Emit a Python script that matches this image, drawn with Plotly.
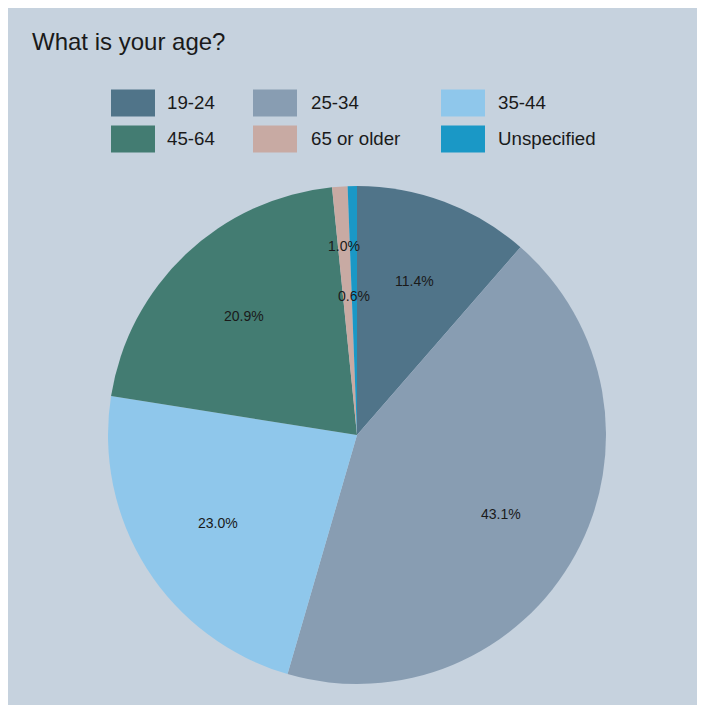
import math
import plotly.graph_objects as go

# ---- data ----
age_groups = ["19-24", "25-34", "35-44", "45-64", "65 or older", "Unspecified"]
shares = [11.4, 43.1, 23.0, 20.9, 1.0, 0.6]
slice_colors = ["#507489", "#889db2", "#8fc7eb", "#437c72", "#c8aaa3", "#1a98c6"]
title_text = "What is your age?"

BG = "#c6d2de"
W = H = 725
L, T, PW, PH = 100, 178, 498, 498
R_ = W - L - PW
B_ = H - T - PH

fig = go.Figure(go.Pie(
    labels=age_groups, values=shares, sort=False, direction="clockwise",
    rotation=0, marker=dict(colors=slice_colors, line=dict(width=0)),
    textinfo="none", hoverinfo="label+percent", showlegend=False,
))

def px_to_paper(x, y):
    return (x - L) / PW, 1 - (y - T) / PH

# label radii (fraction of pie radius) per slice
label_r = {"1.0%": 0.76, "0.6%": 0.56}
annotations = []
total = sum(shares)
cum = 0.0
for lab, v in zip(age_groups, shares):
    mid = (cum + v / 2) / total * 2 * math.pi
    cum += v
    txt = f"{v / total * 100:.1f}%"
    f = label_r.get(txt, 0.66)
    annotations.append(dict(
        x=0.5 + 0.5 * f * math.sin(mid), y=0.5 + 0.5 * f * math.cos(mid),
        xref="paper", yref="paper", text=txt, showarrow=False,
        font=dict(size=14, color="#1a1a1a"), xanchor="center", yanchor="middle"))

# custom legend (3 columns, 2 rows)
col_patch_x = [103, 245, 433]
col_text_x = [157, 301, 488]
row_y = [95, 131]
patch_w, patch_h = 44, 27
shapes = []
for i, (lab, col) in enumerate(zip(age_groups, slice_colors)):
    r, c = divmod(i, 3)
    x0, y0 = px_to_paper(col_patch_x[c], row_y[r] - patch_h / 2)
    x1, y1 = px_to_paper(col_patch_x[c] + patch_w, row_y[r] + patch_h / 2)
    shapes.append(dict(type="rect", xref="paper", yref="paper", x0=x0, x1=x1,
                       y0=y0, y1=y1, fillcolor=col, line=dict(width=0)))
    tx, ty = px_to_paper(col_text_x[c], row_y[r])
    annotations.append(dict(x=tx, y=ty, xref="paper", yref="paper", text=lab,
                            showarrow=False, xanchor="left", yanchor="middle",
                            font=dict(size=18.7, color="#1a1a1a")))

fig.update_layout(
    width=W, height=H,
    margin=dict(l=L, r=R_, t=T, b=B_, pad=0),
    paper_bgcolor=BG, plot_bgcolor=BG,
    font=dict(family="Liberation Sans, Arial, sans-serif"),
    title=dict(text=title_text, x=24 / W, xref="container", xanchor="left",
               y=1 - 34 / H, yref="container", yanchor="middle",
               font=dict(size=24, color="#1a1a1a")),
    shapes=shapes, annotations=annotations,
)
fig.write_html("out.html")
